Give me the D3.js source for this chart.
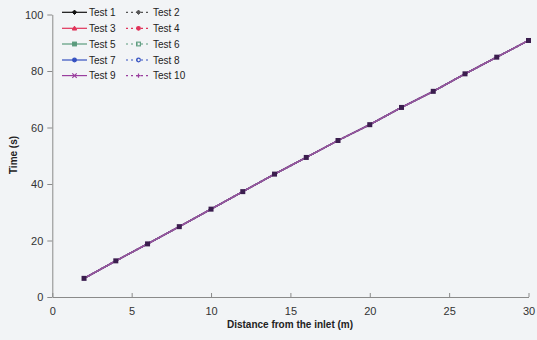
<!DOCTYPE html>
<html>
<head>
<meta charset="utf-8">
<script src="https://cdn.jsdelivr.net/npm/d3@7"></script>
<style>
  html, body { margin: 0; padding: 0; background: #f2f4f6; }
  svg { display: block; }
  text { font-family: "Liberation Sans", Arial, sans-serif; }
</style>
</head>
<body>
<svg id="chart" width="537" height="340"></svg>
<script>
// Measurement positions along the channel (m)
const distances = [2, 4, 6, 8, 10, 12, 14, 16, 18, 20, 22, 24, 26, 28, 30];
// Arrival time (s) at each position; all ten tests give the same readings
const timeReadings = [6.6, 12.8, 18.8, 24.9, 31.1, 37.3, 43.5, 49.4, 55.4, 61.0, 67.1, 72.8, 79.0, 84.9, 90.8];
const testNames = ["Test 1", "Test 2", "Test 3", "Test 4", "Test 5", "Test 6", "Test 7", "Test 8", "Test 9", "Test 10"];
const xTicks = [0, 5, 10, 15, 20, 25, 30];
const yTicks = [0, 20, 40, 60, 80, 100];

// Line and marker style per test
const styles = [
  { color: "#111111", dash: null,  marker: "diamond",  fill: true  },
  { color: "#555555", dash: "2,3", marker: "diamond",  fill: true  },
  { color: "#e0335a", dash: null,  marker: "triangle", fill: true  },
  { color: "#e0335a", dash: "2,3", marker: "circle",   fill: true  },
  { color: "#5a9a7c", dash: null,  marker: "square",   fill: true  },
  { color: "#5a9a7c", dash: "2,3", marker: "square",   fill: false },
  { color: "#3450c0", dash: null,  marker: "circle",   fill: true  },
  { color: "#3450c0", dash: "2,3", marker: "circle",   fill: false },
  { color: "#9a3e9e", dash: null,  marker: "cross",    fill: true  },
  { color: "#9a3e9e", dash: "2,3", marker: "plus",     fill: true  }
];

const series = testNames.map((name, i) => ({
  name,
  style: styles[i],
  points: distances.map((d, j) => ({ x: d, y: timeReadings[j] }))
}));

const svg = d3.select("#chart");

const x = d3.scaleLinear().domain([0, 30]).range([52.3, 528.5]);
const y = d3.scaleLinear().domain([0, 100]).range([297, 14.5]);

const axisColor = "#8a8a8a";
const tickText = "#333333";

// X axis: ticks pointing up into the plot
const gx = svg.append("g").attr("transform", `translate(0,${y(0)})`)
  .call(d3.axisBottom(x).tickValues(xTicks).tickSize(-4).tickPadding(10).tickSizeOuter(0));
gx.select(".domain").attr("stroke", axisColor);
gx.selectAll(".tick line").attr("stroke", axisColor);
gx.selectAll(".tick text").attr("fill", tickText).attr("font-size", 11)
  .attr("font-family", "Liberation Sans, Arial, sans-serif");

// Y axis
const gy = svg.append("g").attr("transform", `translate(${x(0)},0)`)
  .call(d3.axisLeft(y).tickValues(yTicks).tickSize(5).tickPadding(4).tickSizeOuter(0));
gy.select(".domain").attr("stroke", axisColor);
gy.selectAll(".tick line").attr("stroke", axisColor);
gy.selectAll(".tick text").attr("fill", tickText).attr("font-size", 11)
  .attr("font-family", "Liberation Sans, Arial, sans-serif");

// Axis titles
svg.append("text").attr("x", 290).attr("y", 328).attr("text-anchor", "middle")
  .attr("font-size", 10).attr("font-weight", "bold").attr("fill", "#222")
  .text("Distance from the inlet (m)");
svg.append("text").attr("transform", "translate(17,155) rotate(-90)")
  .attr("text-anchor", "middle").attr("font-size", 10).attr("font-weight", "bold")
  .attr("fill", "#222").text("Time (s)");

// Marker drawing helper
function drawMarker(g, type, cx, cy, color, fill, size) {
  const s = size;
  switch (type) {
    case "diamond":
      g.append("path").attr("d", `M${cx},${cy - s}L${cx + s},${cy}L${cx},${cy + s}L${cx - s},${cy}Z`)
        .attr("fill", fill ? color : "none").attr("stroke", color).attr("stroke-width", 1);
      break;
    case "triangle":
      g.append("path").attr("d", `M${cx},${cy - s}L${cx + s},${cy + s * 0.8}L${cx - s},${cy + s * 0.8}Z`)
        .attr("fill", fill ? color : "none").attr("stroke", color).attr("stroke-width", 1);
      break;
    case "square":
      g.append("rect").attr("x", cx - s * 0.85).attr("y", cy - s * 0.85)
        .attr("width", s * 1.7).attr("height", s * 1.7)
        .attr("fill", fill ? color : "none").attr("stroke", color).attr("stroke-width", 1.1);
      break;
    case "circle":
      g.append("circle").attr("cx", cx).attr("cy", cy).attr("r", s * 0.85)
        .attr("fill", fill ? color : "none").attr("stroke", color).attr("stroke-width", 1.1);
      break;
    case "cross":
      g.append("path").attr("d", `M${cx - s},${cy - s}L${cx + s},${cy + s}M${cx - s},${cy + s}L${cx + s},${cy - s}`)
        .attr("stroke", color).attr("stroke-width", 1.2);
      break;
    case "plus":
      g.append("path").attr("d", `M${cx - s},${cy}L${cx + s},${cy}M${cx},${cy - s}L${cx},${cy + s}`)
        .attr("stroke", color).attr("stroke-width", 1.2);
      break;
  }
}

// Data lines (drawn in test order, so later tests sit on top)
const line = d3.line().x(d => x(d.x)).y(d => y(d.y));
const plot = svg.append("g");
series.forEach(s => {
  plot.append("path").datum(s.points).attr("d", line)
    .attr("fill", "none").attr("stroke", s.style.color).attr("stroke-width", 1.3)
    .attr("stroke-dasharray", s.style.dash);
});
// Solid purple trace over the dotted ones
plot.append("path").datum(series[8].points).attr("d", line)
  .attr("fill", "none").attr("stroke", "#95599a").attr("stroke-width", 1.4);

// Coincident markers of all tests read as dark squares
const markG = svg.append("g");
series[8].points.forEach(p => {
  markG.append("rect").attr("x", x(p.x) - 2.5).attr("y", y(p.y) - 2.5)
    .attr("width", 5).attr("height", 5).attr("fill", "#3b1d4e");
});

// Legend: two columns, five rows
const legend = svg.append("g");
const rowY = [12.3, 28.3, 44, 60, 75.6];
series.forEach((s, i) => {
  const col = i % 2, row = Math.floor(i / 2);
  const x0 = col === 0 ? 62 : 126;
  const cy = rowY[row];
  legend.append("line").attr("x1", x0).attr("x2", x0 + 25).attr("y1", cy).attr("y2", cy)
    .attr("stroke", s.style.color).attr("stroke-width", 1.2)
    .attr("stroke-dasharray", s.style.dash);
  drawMarker(legend, s.style.marker, x0 + 12.5, cy, s.style.color, s.style.fill, 2.2);
  legend.append("text").attr("x", x0 + 27).attr("y", cy + 3.6)
    .attr("font-size", 10).attr("fill", "#222").text(s.name);
});
</script>
</body>
</html>
